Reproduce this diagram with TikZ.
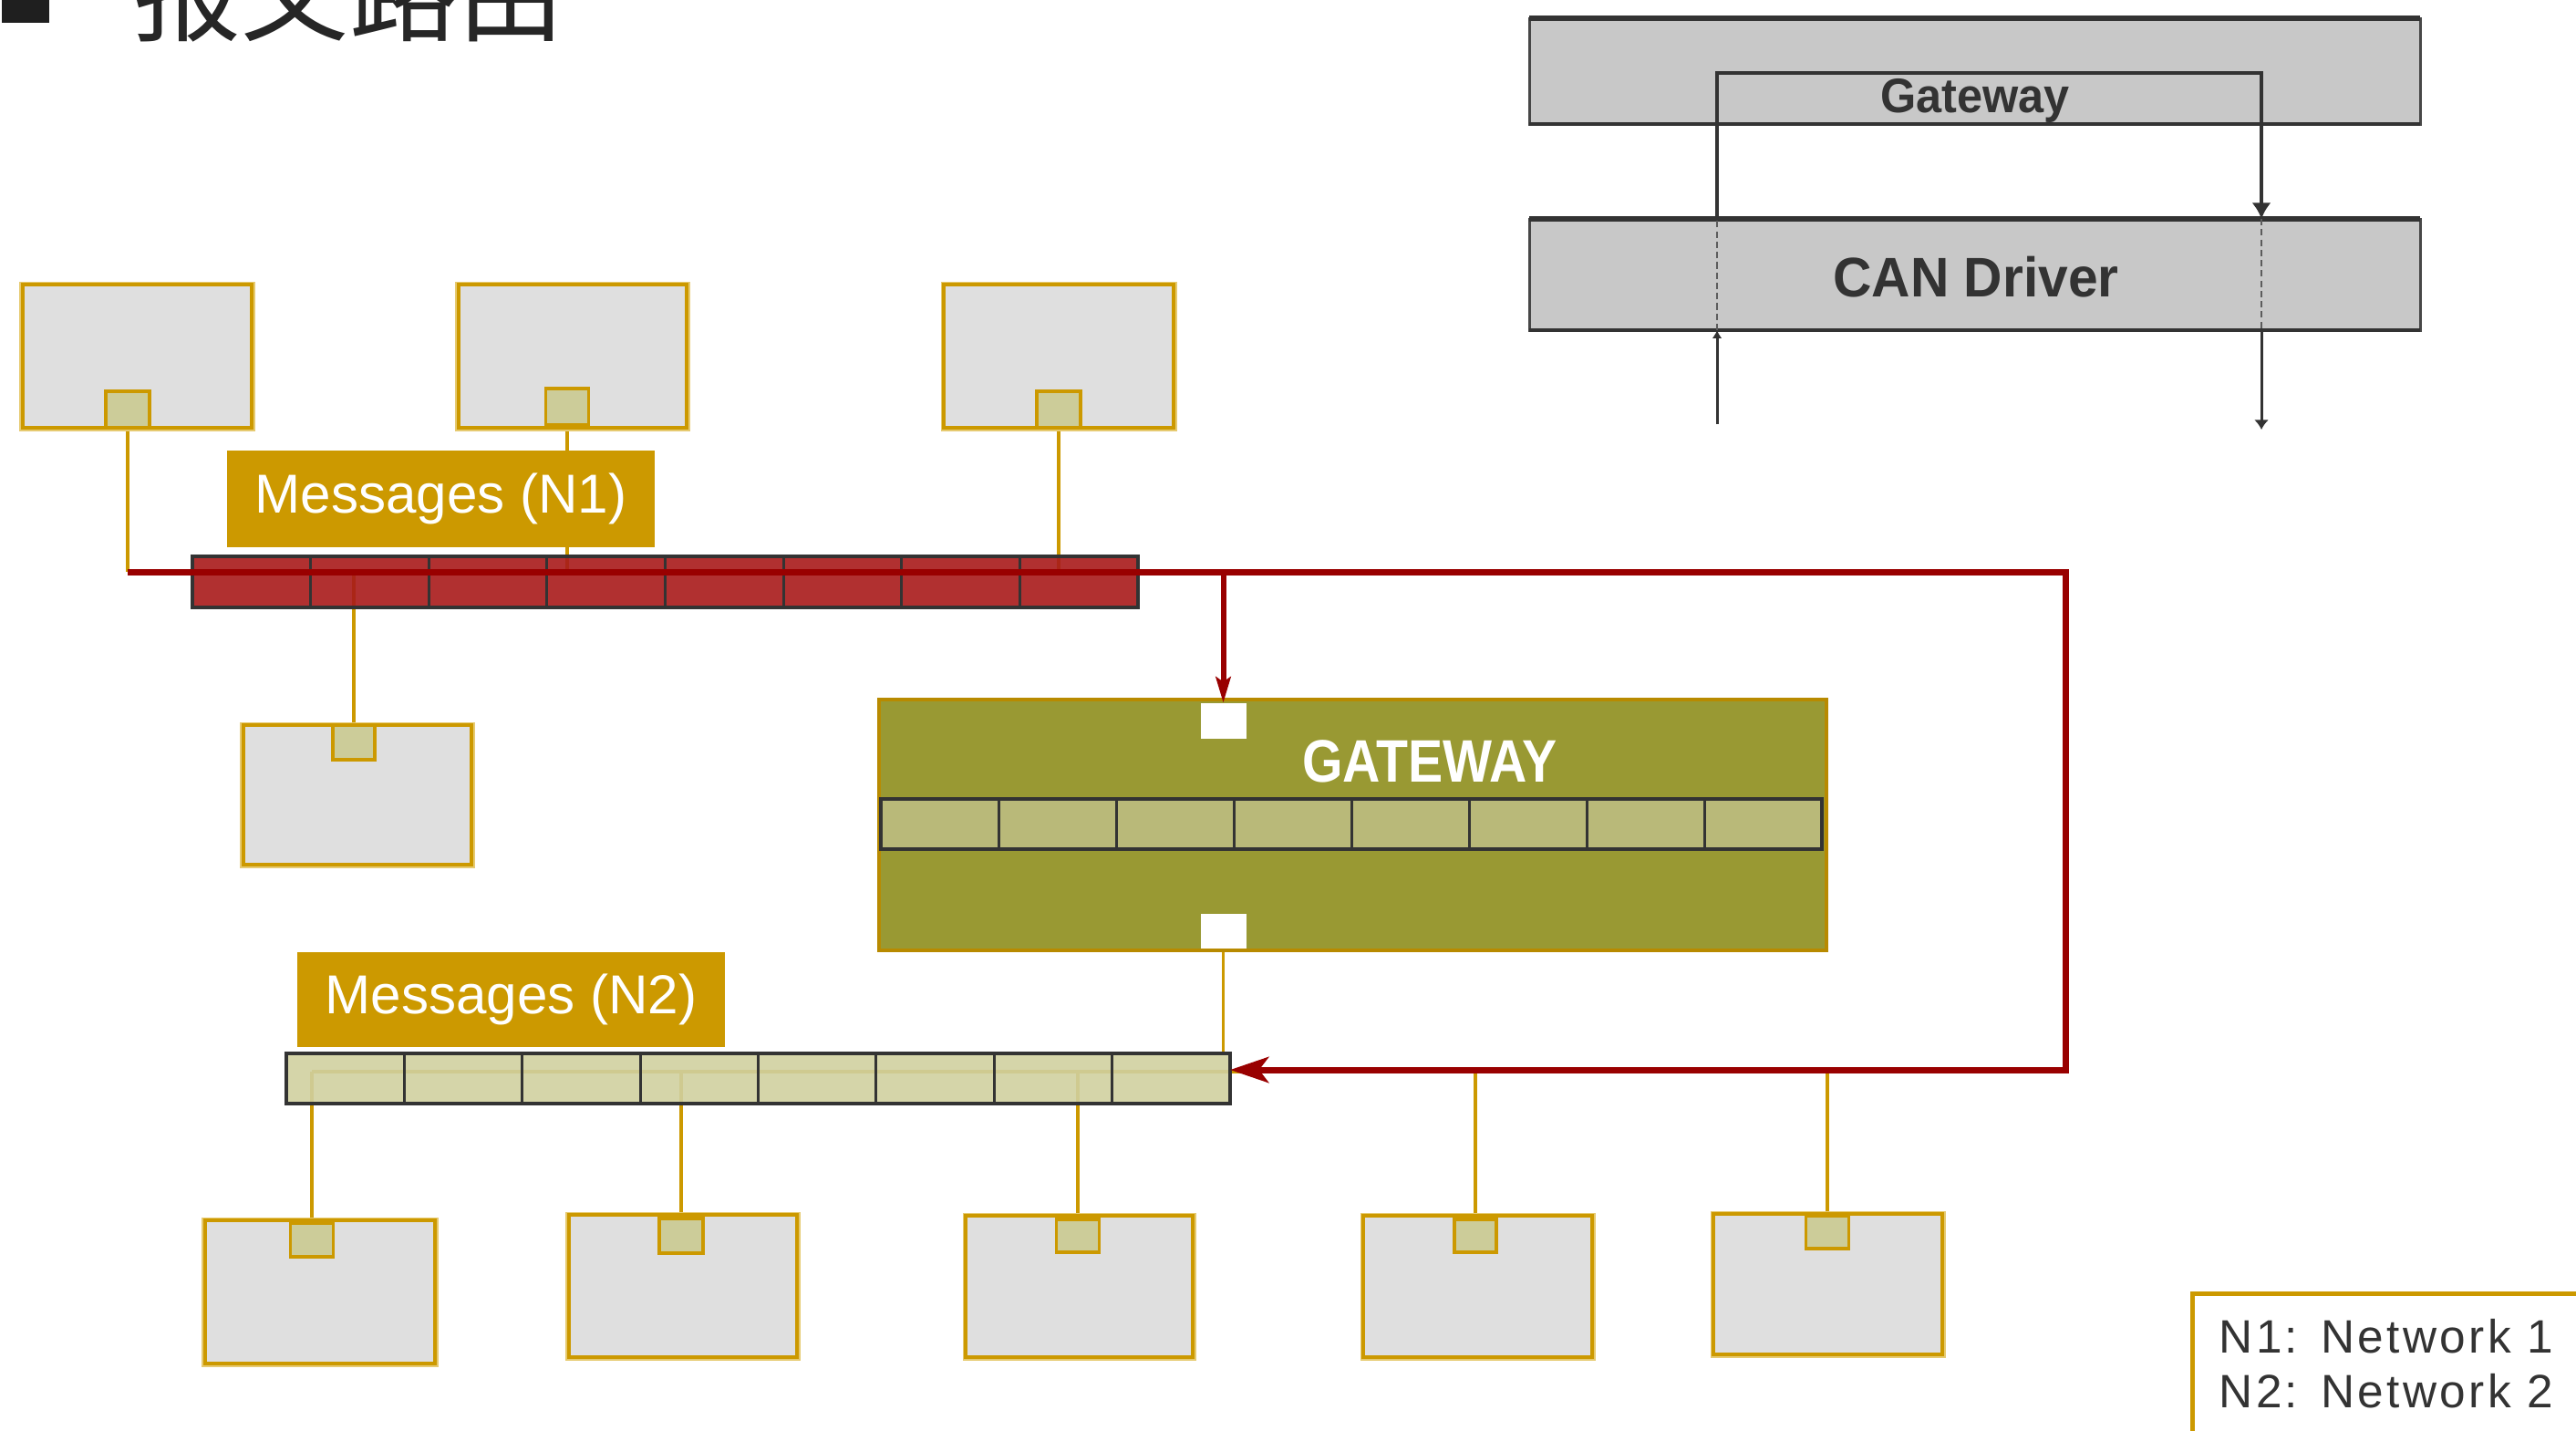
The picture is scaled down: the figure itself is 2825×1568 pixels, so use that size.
\documentclass[tikz,border=0pt]{standalone}
\usepackage{fontspec}
\setmainfont{Liberation Sans}
\newfontfamily\cjk{Noto Sans CJK SC}
\newfontfamily\legendfont[LetterSpace=6.5]{Liberation Sans}
\usetikzlibrary{arrows.meta,calc}
\definecolor{gold}{HTML}{CC9900}
\definecolor{goldlight}{HTML}{E6CA70}
\definecolor{boxgray}{HTML}{DFDFDF}
\definecolor{sqfill}{HTML}{CCCC99}
\definecolor{olive}{HTML}{999933}
\definecolor{barred}{HTML}{A81A1A}
\definecolor{linered}{HTML}{990000}
\definecolor{bartan}{HTML}{D0D0A0}
\definecolor{gbartan}{HTML}{B9B979}
\definecolor{stackgray}{HTML}{C8C8C8}
\definecolor{darkline}{HTML}{333333}
\pgfdeclarelayer{back}
\pgfsetlayers{back,main}
\begin{document}
\begin{tikzpicture}[x=0.01cm,y=-0.01cm,
  sz/.style 2 args={minimum width=#1*0.01cm, minimum height=#2*0.01cm, inner sep=0pt, outer sep=0pt},
  nodebox/.style={fill=boxgray, draw=gold, line width=1pt, preaction={draw=goldlight, line width=2pt}},
  sqbox/.style={fill=sqfill, draw=gold, line width=1pt},
  gline/.style={draw=gold, line width=1.1pt},
  redline/.style={draw=linered, line width=2pt},
  barbox/.style={draw=darkline, line width=1.1pt},
  divider/.style={draw=darkline, line width=0.85pt},
  stackbox/.style={fill=stackgray, draw=darkline!90, line width=0.85pt},
  stackline/.style={draw=darkline, line width=0.85pt},
  dashln/.style={draw=darkline!80, line width=0.5pt, dash pattern=on 2pt off 1.2pt},
  label/.style={fill=gold, text=white, font=\fontsize{17.1pt}{20pt}\selectfont},
  port/.style={fill=white, draw=none},
  legtext/.style={anchor=base west, inner sep=0pt, text=darkline, font=\legendfont\fontsize{14.6pt}{17pt}\selectfont}
]
\useasboundingbox (0,0) rectangle (2825,1568);

% title
\fill[black!88] (2,-28) rectangle (54,25);
\node[anchor=base west, inner sep=0pt, text=black!85, font=\cjk\fontsize{33.6pt}{36pt}\selectfont] (title) at (146,36) {报文路由};

% ---------- stack diagram (top right)
\node[stackbox, sz={977}{116}] (gw) at (2165.5,78) {};
\node[stackbox, sz={977}{122}] (can) at (2165.5,301) {};
\draw[draw=darkline, line width=1.7pt] (gw.north west) -- (gw.north east);
\draw[draw=darkline, line width=1.4pt] (gw.south west) -- (gw.south east);
\draw[draw=darkline, line width=1.7pt] (can.north west) -- (can.north east);
\draw[draw=darkline, line width=1.4pt] (can.south west) -- (can.south east);
\node[anchor=base, inner sep=0pt, text=darkline, font=\bfseries\fontsize{15.1pt}{18pt}\selectfont] (gwtext) at (2166,123) {\scalebox{0.95}[1]{Gateway}};
\node[anchor=base, inner sep=0pt, text=darkline, font=\bfseries\fontsize{17.4pt}{20pt}\selectfont] (cantext) at (2167,325) {\scalebox{0.96}[1]{CAN Driver}};
\coordinate (gl0) at (1883,465);
\coordinate (gl1) at (1883,80);
\coordinate (gr1) at (2480,80);
\coordinate (gr3) at (2480,471);
\draw[stackline, -{Latex[length=2.5pt,width=3pt]}] (gl0) -- (gl0 |- can.south);
\draw[dashln] (gl0 |- can.south) -- (gl0 |- can.north);
\draw[stackline, line width=1.1pt, -{Latex[length=5pt,width=6pt]}] (gl0 |- can.north) -- (gl1) -- (gr1) -- (gr1 |- can.north);
\draw[dashln] (gr1 |- can.north) -- (gr1 |- can.south);
\draw[stackline, -{Latex[length=3pt,width=4.5pt]}] (gr1 |- can.south) -- (gr3);

% ---------- network 1 nodes
\node[nodebox, sz={251}{157}] (n1a) at (150.5,390.5) {};
\node[nodebox, sz={250}{157}] (n1b) at (628,390.5) {};
\node[nodebox, sz={252}{157}] (n1c) at (1161,390.5) {};
\node[nodebox, sz={250}{153}] (n1d) at (392,871.5) {};
\node[sqbox, sz={48}{40}] (s1a) at (140,449) {};
\node[sqbox, sz={47}{40}] (s1b) at (622,446) {};
\node[sqbox, sz={48}{40}] (s1c) at (1161,449) {};
\node[sqbox, sz={46}{38}] (s1d) at (388,814) {};
\coordinate (r0) at (140,627);
\coordinate (r1) at (2265,627);
\coordinate (r2) at (2265,1173);

% bar 1
\node[barbox, fill=barred, fill opacity=0.9, sz={1037}{56}] (bar1) at (729.5,638) {};
\foreach \i in {1,...,7}
  \draw[divider] ($(bar1.north west)!\i/8!(bar1.north east)$) -- ($(bar1.south west)!\i/8!(bar1.south east)$);
\node[label, sz={469}{106}] (lab1) at (483.5,547) {Messages (N1)};

% ---------- gateway
\node[fill=olive, draw=gold!90!black, line width=0.9pt, sz={1039}{275}] (gwy) at (1483.5,904.5) {};
\node[port, sz={50}{39}] (pt) at (1341.5,790) {};
\node[port, sz={50}{38}] (pb) at (1341.5,1021) {};
\node[anchor=base, inner sep=0pt, text=white, font=\bfseries\fontsize{18.7pt}{22pt}\selectfont] (gwylabel) at (1568,857) {\scalebox{0.87}[1]{GATEWAY}};
\node[barbox, fill=gbartan, sz={1032}{55}] (gbar) at (1482,903.5) {};
\foreach \i in {1,...,7}
  \draw[divider] ($(gbar.north west)!\i/8!(gbar.north east)$) -- ($(gbar.south west)!\i/8!(gbar.south east)$);

% ---------- network 2
\node[barbox, fill=bartan, fill opacity=0.9, sz={1035}{55}] (bar2) at (831.5,1182.5) {};
\foreach \i in {1,...,7}
  \draw[divider] ($(bar2.north west)!\i/8!(bar2.north east)$) -- ($(bar2.south west)!\i/8!(bar2.south east)$);
\node[label, sz={469}{104}] (lab2) at (560.5,1096) {Messages (N2)};

\node[nodebox, sz={252}{157}] (n2a) at (351,1416.5) {};
\node[nodebox, sz={250}{156}] (n2b) at (749,1410) {};
\node[nodebox, sz={249}{155}] (n2c) at (1183.5,1410.5) {};
\node[nodebox, sz={251}{155}] (n2d) at (1620.5,1410.5) {};
\node[nodebox, sz={251}{154}] (n2e) at (2004.5,1408) {};
\node[sqbox, sz={47}{37}] (s2a) at (342,1359.5) {};
\node[sqbox, sz={48}{38}] (s2b) at (747,1355) {};
\node[sqbox, sz={47}{36}] (s2c) at (1182,1355) {};
\node[sqbox, sz={46}{36}] (s2d) at (1618,1355) {};
\node[sqbox, sz={47}{36}] (s2e) at (2004,1351) {};
\coordinate (b2) at (342,1175);

% gold connectors (behind)
\begin{pgfonlayer}{back}
\draw[gline] (s1a.south) -- (r0);
\draw[gline] (s1b.south) -- (s1b.south |- r0);
\draw[gline] (s1c.south) -- (s1c.south |- r0);
\draw[gline] (s1d.north) -- (s1d.north |- r0);
\draw[gline] (s2a.north |- b2) -- (s2e.north |- b2);
\foreach \s in {s2a,s2b,s2c,s2d,s2e}
  \draw[gline] (\s.north) -- (\s.north |- b2);
\draw[gline] (pb.south) -- (pb.south |- bar2.north);
\end{pgfonlayer}

% red routing line
\draw[redline, -{Stealth[length=12pt,width=8pt,inset=3pt]}] (r0) -- (r1) -- (r2) -- (bar2.east |- r2);
\draw[redline, line width=1.7pt, -{Stealth[length=8pt,width=4.6pt,inset=1.5pt]}] (pt.north |- r0) -- (pt.north);

% ---------- legend
\node[draw=gold, line width=1.4pt, fill=white, anchor=north west, sz={500}{250}] (legend) at (2404,1418) {};
\node[legtext] (leg1) at (2433,1483) {N1:\kern0.15em\ Network 1};
\node[legtext] (leg2) at (2433,1543) {N2:\kern0.15em\ Network 2};
\end{tikzpicture}
\end{document}
